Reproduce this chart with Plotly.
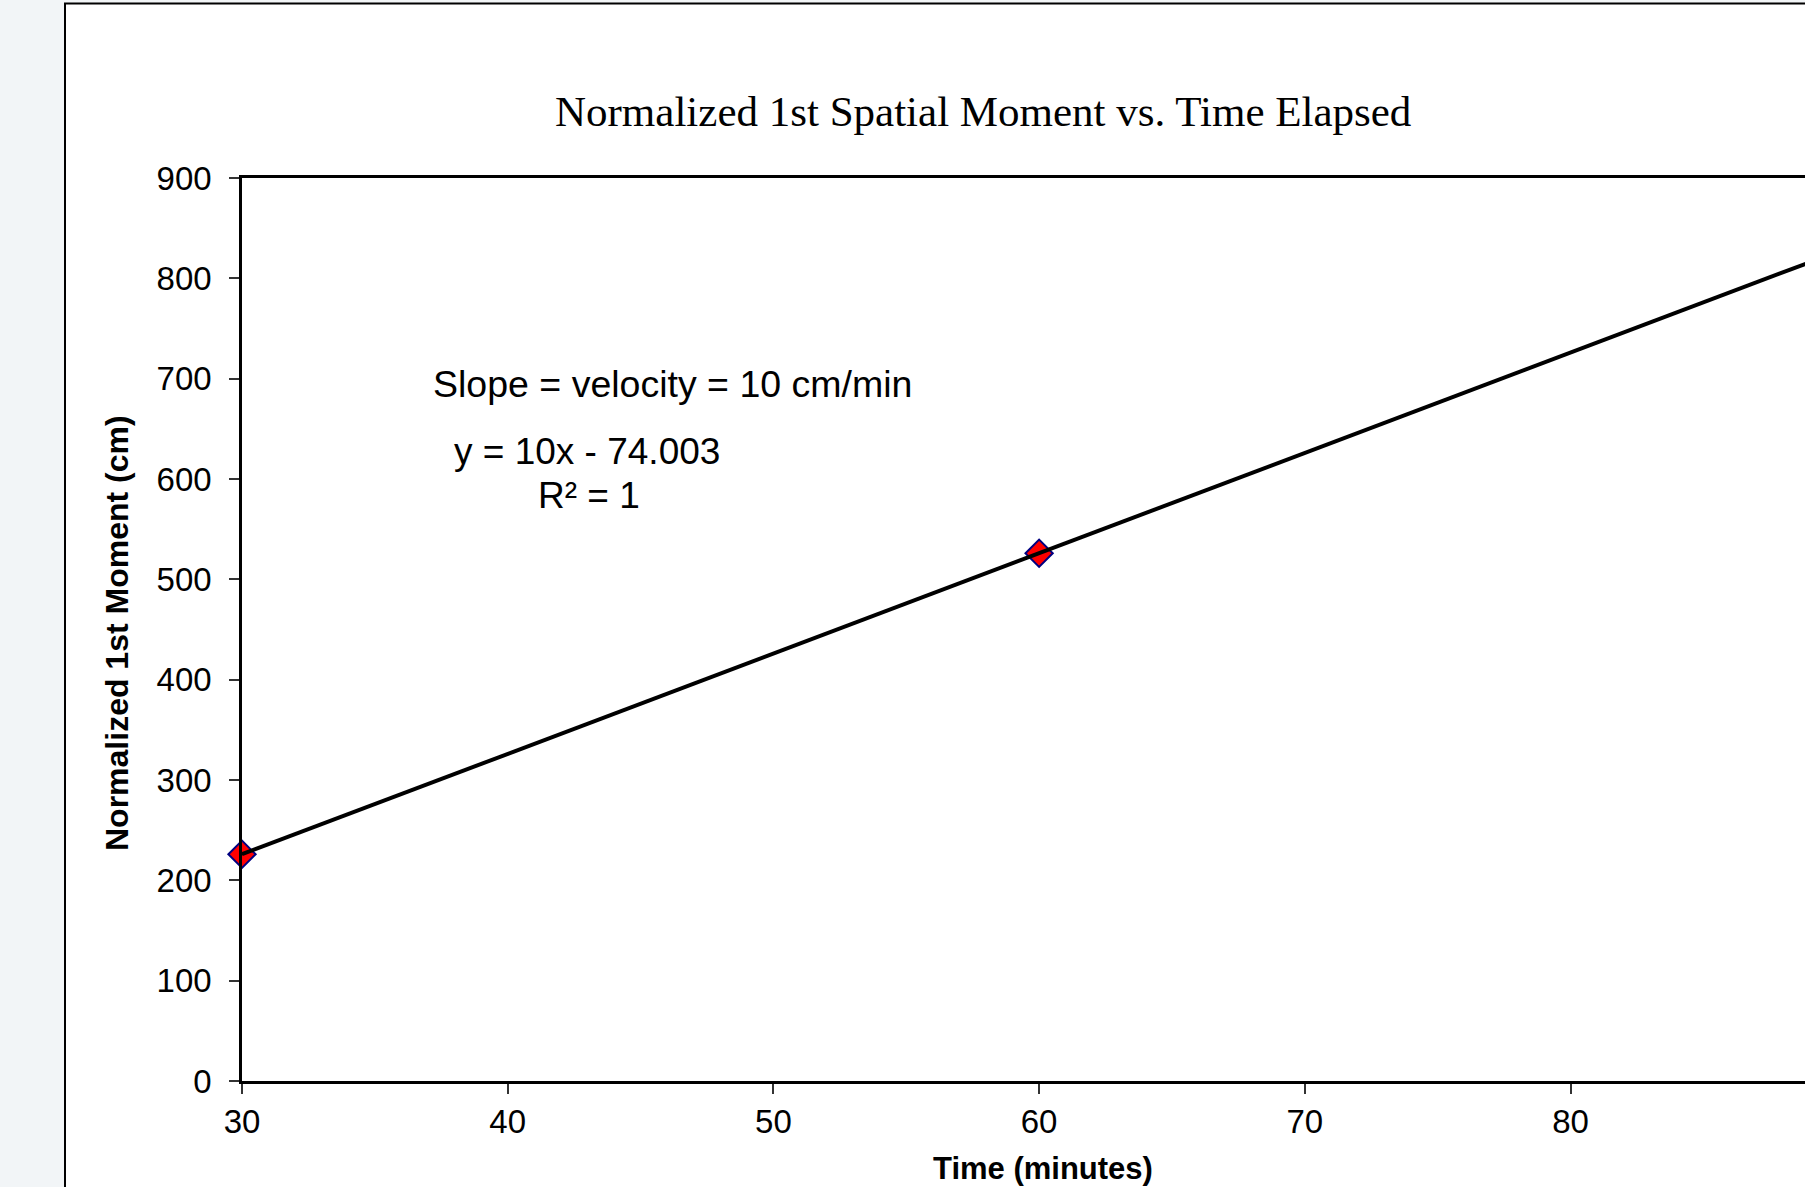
import numpy as np
import plotly.graph_objects as go

# ---- data ----
time_min = [30, 60]
moment_cm = [226.0, 526.0]
x_ticks = [30, 40, 50, 60, 70, 80, 90]
y_ticks = [0, 100, 200, 300, 400, 500, 600, 700, 800, 900]
title_text = "Normalized 1st Spatial Moment vs. Time Elapsed"
x_title = "Time (minutes)"
y_title = "Normalized 1st Moment (cm)"
note_lines = ["Slope = velocity = 10 cm/min", "y = 10x - 74.003", "R² = 1"]
x_axis_max = 90

# linear trendline fitted from the data
slope, intercept = np.polyfit(time_min, moment_cm, 1)
trend_x = [time_min[0], x_axis_max]
trend_y = [slope * v + intercept for v in trend_x]

W, H = 1805, 1187
L, T, B = 242, 178, 1081
R = W
pw, ph = R - L, B - T
px_per_unit = 26.57
x_max_vis = 30 + pw / px_per_unit


def px2paper_x(px):
    return (px - L) / pw


def px2paper_y(py):
    return (B - py) / ph


sans = "Liberation Sans, Arial, sans-serif"
serif = "Liberation Serif, Times New Roman, serif"

fig = go.Figure()
fig.add_trace(go.Scatter(
    x=time_min, y=moment_cm, mode="markers",
    marker=dict(symbol="diamond", size=21, color="#FF0000",
                line=dict(color="#000080", width=2)),
    showlegend=False, cliponaxis=False,
))
fig.add_trace(go.Scatter(
    x=trend_x, y=trend_y, mode="lines",
    line=dict(color="black", width=4),
    showlegend=False,
))

shapes = [
    dict(type="rect", xref="paper", yref="paper",
         x0=px2paper_x(65), x1=px2paper_x(1900),
         y0=px2paper_y(1300), y1=px2paper_y(3.5),
         fillcolor="white", line=dict(color="black", width=2), layer="below"),
]

annotations = [
    dict(text=title_text, xref="paper", yref="paper",
         x=px2paper_x(983), y=px2paper_y(112), xanchor="center", yanchor="middle",
         showarrow=False, font=dict(family=serif, size=43, color="black")),
    dict(text=f"<b>{y_title}</b>", xref="paper", yref="paper",
         x=px2paper_x(117), y=px2paper_y(633), xanchor="center", yanchor="middle",
         textangle=-90, showarrow=False, font=dict(family=sans, size=32, color="black")),
    dict(text=f"<b>{x_title}</b>", xref="paper", yref="paper",
         x=px2paper_x(1043), y=px2paper_y(1168), xanchor="center", yanchor="middle",
         showarrow=False, font=dict(family=sans, size=31, color="black")),
    dict(text=note_lines[0], xref="paper", yref="paper",
         x=px2paper_x(431), y=px2paper_y(384), xanchor="left", yanchor="middle",
         showarrow=False, font=dict(family=sans, size=37.5, color="black")),
    dict(text=note_lines[1], xref="paper", yref="paper",
         x=px2paper_x(452), y=px2paper_y(452), xanchor="left", yanchor="middle",
         showarrow=False, font=dict(family=sans, size=37, color="black")),
    dict(text=note_lines[2], xref="paper", yref="paper",
         x=px2paper_x(536), y=px2paper_y(495), xanchor="left", yanchor="middle",
         showarrow=False, font=dict(family=sans, size=37, color="black")),
]

fig.update_layout(
    width=W, height=H,
    margin=dict(l=L, r=0, t=T, b=H - B, pad=0),
    paper_bgcolor="#F2F5F7",
    plot_bgcolor="white",
    shapes=shapes,
    annotations=annotations,
    showlegend=False,
)
fig.update_xaxes(
    range=[30, x_max_vis], tickvals=x_ticks, ticktext=[str(v) for v in x_ticks],
    showgrid=False, zeroline=False,
    showline=True, linecolor="black", linewidth=2.5, mirror=True,
    ticks="outside", ticklen=10, tickwidth=1.5, tickcolor="#333333",
    tickfont=dict(family=sans, size=33, color="black"),
)
fig.update_yaxes(
    range=[0, 900], tickvals=y_ticks, ticktext=[str(v) for v in y_ticks],
    showgrid=False, zeroline=False,
    showline=True, linecolor="black", linewidth=2.5,
    ticks="outside", ticklen=10, tickwidth=1.5, tickcolor="#333333",
    tickfont=dict(family=sans, size=33, color="black"),
    ticklabelstandoff=11,
)

fig.write_html(
    "out.html",
    config={"displayModeBar": False},
    post_script="document.body.style.margin='0';document.body.style.overflow='hidden';",
)
